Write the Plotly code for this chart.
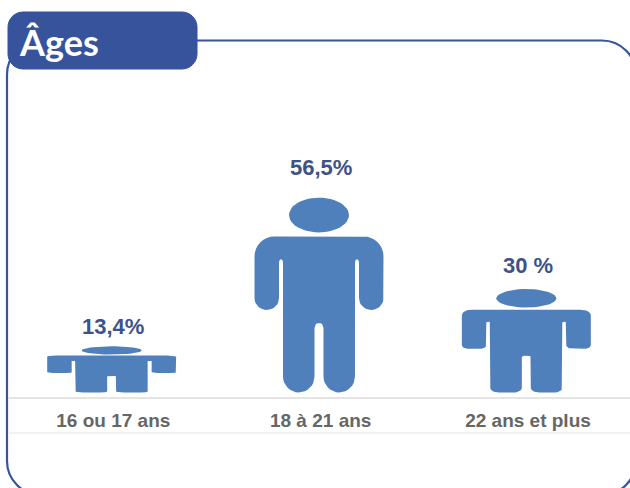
import math
import plotly.graph_objects as go

categories = ["16 ou 17 ans", "18 à 21 ans", "22 ans et plus"]
values = [13.4, 56.5, 30.0]
value_labels = ["13,4%", "56,5%", "30 %"]
title_text = "Âges"

W, H = 630, 488
BLUE = "#4f80bb"
DARK = "#37539c"
LBL = "#3d5287"
GREY = "#666666"

PB = 397
PL = 8
YMIN, YMAX = -1.3, 113.8


def arc(cx, cy, rx, ry, a0, a1, n=8):
    return [(cx + rx * math.cos(math.radians(a0 + (a1 - a0) * i / n)),
             cy + ry * math.sin(math.radians(a0 + (a1 - a0) * i / n))) for i in range(n + 1)]


def tip(x_right, x_left, y_end, ry, f):
    """Bottom end of a limb: rounded corners, tighter when the figure is squat."""
    half = (x_right - x_left) / 2
    rx = half * max(f, 0.45)
    return (arc(x_right - rx, y_end + ry, rx, ry, 0, -90) +
            arc(x_left + rx, y_end + ry, rx, ry, -90, -180))


# Unit pictogram, design units: x from the centre (+-64.5), y above the feet (0-196).
# f = squatness of the figure; the y radii are divided by it after the vertical squeeze.
def body_outline(f):
    ry_s = 20 * f
    ry_h = 12 * f
    ry_f = 16 * f
    rx_s = 20 * max(f, 0.45)
    pts = []
    pts += arc(-64.5 + rx_s, 157 - ry_s, rx_s, ry_s, 180, 90)    # left shoulder
    pts += arc(64.5 - rx_s, 157 - ry_s, rx_s, ry_s, 90, 0)       # right shoulder
    pts += tip(64.5, 40, 83, ry_h, f)                            # right hand
    pts += arc(38, 134 - 3 * f, 2, 3 * f, 0, 180)                # right armpit
    pts += tip(36, 4.5, 0, ry_f, f)                              # right foot
    pts += arc(0, 70 - 5 * f, 4.5, 5 * f, 0, 180)                # crotch
    pts += tip(-4.5, -36, 0, ry_f, f)                            # left foot
    pts += arc(-38, 134 - 3 * f, 2, 3 * f, 0, 180)               # left armpit
    pts += tip(-40, -64.5, 83, ry_h, f)                          # left hand
    return [(x / 64.5, y / 196.0) for x, y in pts]


def head_outline():
    pts = arc(0, 178.5, 30, 17.5, 0, 360, 48)
    return [(x / 64.5, y / 196.0) for x, y in pts]


HALF_W = 0.311  # half-width of a pictogram in category units

fig = go.Figure()
for i, v in enumerate(values):
    f = v / max(values)
    for outline in (body_outline(f), head_outline()):
        fig.add_trace(go.Scatter(
            x=[i + HALF_W * u for u, _ in outline],
            y=[v * w for _, w in outline],
            mode="lines", fill="toself", fillcolor=BLUE,
            line=dict(color=BLUE, width=0), hoverinfo="skip", showlegend=False))


# page pixels -> paper fractions (paper = the plot area)
def fx(p):
    return (p - PL) / (W - PL)


def fy(p):
    return (PB - p) / PB


def rr(x0, y0, x1, y1, r):
    k = r * 0.45
    return (f"M{fx(x0 + r)},{fy(y0)} L{fx(x1 - r)},{fy(y0)} "
            f"C{fx(x1 - k)},{fy(y0)} {fx(x1)},{fy(y0 + k)} {fx(x1)},{fy(y0 + r)} "
            f"L{fx(x1)},{fy(y1 - r)} "
            f"C{fx(x1)},{fy(y1 - k)} {fx(x1 - k)},{fy(y1)} {fx(x1 - r)},{fy(y1)} "
            f"L{fx(x0 + r)},{fy(y1)} "
            f"C{fx(x0 + k)},{fy(y1)} {fx(x0)},{fy(y1 - k)} {fx(x0)},{fy(y1 - r)} "
            f"L{fx(x0)},{fy(y0 + r)} "
            f"C{fx(x0)},{fy(y0 + k)} {fx(x0 + k)},{fy(y0)} {fx(x0 + r)},{fy(y0)} Z")


shapes = [
    dict(type="path", xref="paper", yref="paper", path=rr(7, 40.5, 636, 495, 34),
         line=dict(color=DARK, width=2.2), fillcolor="rgba(0,0,0,0)", layer="below"),
    dict(type="path", xref="paper", yref="paper", path=rr(8, 12, 197, 69, 15),
         line=dict(color=DARK, width=1), fillcolor=DARK, layer="above"),
    dict(type="line", xref="paper", yref="paper", x0=fx(8), x1=1, y0=fy(433), y1=fy(433),
         line=dict(color="#ececec", width=1.5)),
]

annotations = [dict(x=fx(16.5), y=fy(42), xref="paper", yref="paper", xanchor="left", yanchor="middle",
                    text=f"<b>{title_text}</b>", showarrow=False,
                    font=dict(family="Lato", size=36, color="white"))]
for i, (v, t) in enumerate(zip(values, value_labels)):
    annotations.append(dict(x=i, y=v * 1.075 + 4.6, xref="x", yref="y", text=f"<b>{t}</b>",
                            showarrow=False, yanchor="middle", xshift=1.5,
                            font=dict(family="Liberation Sans", size=22, color=LBL)))

fig.update_layout(
    width=W, height=H, margin=dict(l=PL, r=0, t=0, b=H - PB, autoexpand=False),
    paper_bgcolor="white", plot_bgcolor="white", showlegend=False,
    shapes=shapes, annotations=annotations,
    xaxis=dict(range=[-0.5, 2.5], tickmode="array", tickvals=[0.008, 1.008, 2.008],
               ticktext=[f"<b>{c}</b>" for c in categories],
               showgrid=False, zeroline=False, showline=True, linecolor="#e4e4e4", linewidth=1.5,
               ticks="outside", ticklen=5, tickcolor="rgba(0,0,0,0)",
               tickfont=dict(family="Liberation Sans", size=19, color=GREY), fixedrange=True),
    yaxis=dict(range=[YMIN, YMAX], visible=False, fixedrange=True),
)

fig.write_html("out.html", config=dict(displayModeBar=False),
               post_script="document.body.style.margin='0';document.body.style.overflow='hidden';")
